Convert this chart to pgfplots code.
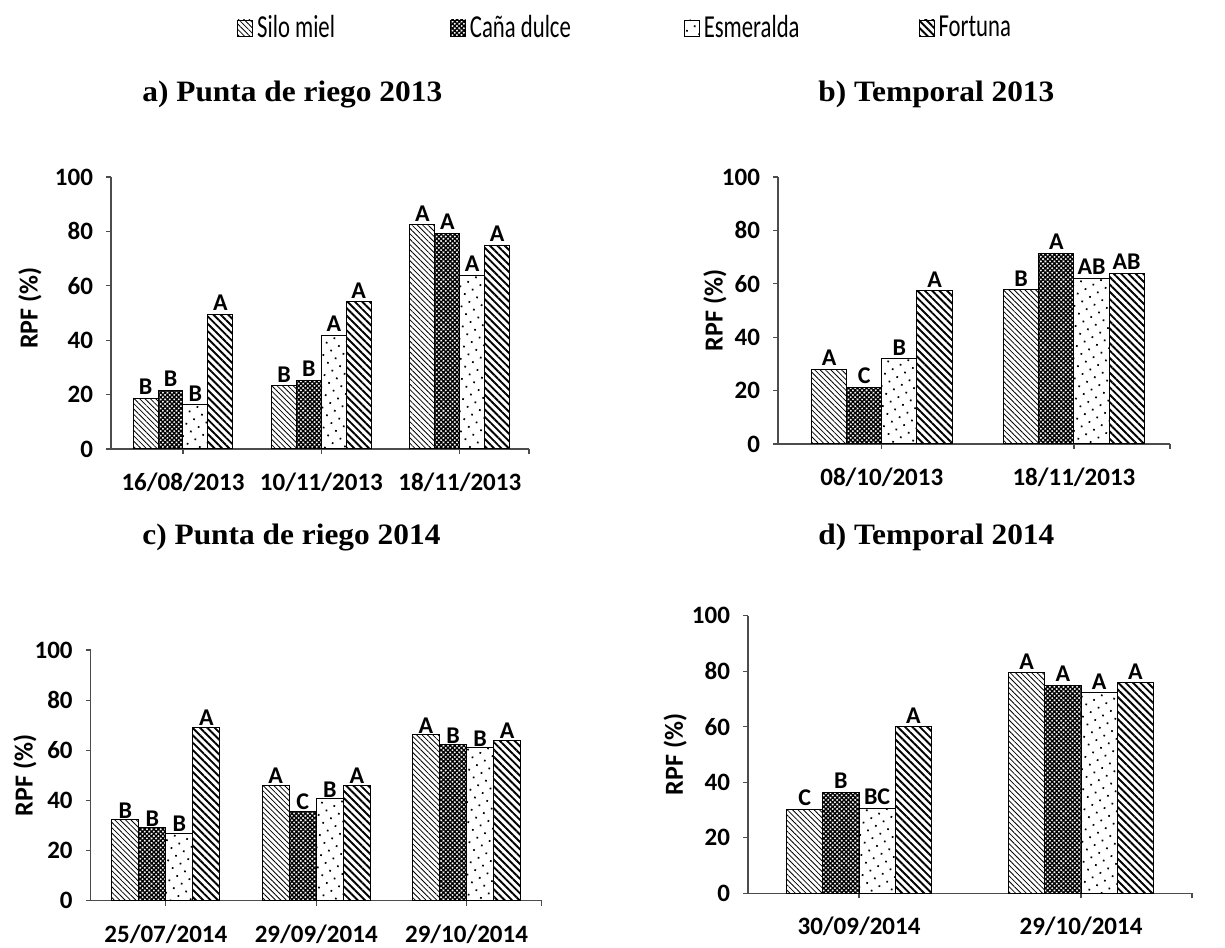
\documentclass[border=0pt]{standalone}
\usepackage{fontspec}
\setmainfont{Liberation Serif}
\setsansfont{Carlito}
\newfontfamily\legfont[FakeStretch=0.71]{Carlito}
\newfontfamily\titlefont[FakeStretch=1.06]{Liberation Serif}
\usepackage{pgfplots}
\pgfplotsset{compat=1.18}
\usetikzlibrary{patterns.meta}

\pgfplotsset{
  silo/.style={draw=black, line width=0.5pt, pattern={Lines[angle=-45,distance=1.9pt,line width=0.4pt]}},
  cana/.style={draw=black, line width=0.5pt, pattern={Hatch[angle=45,distance=1.6pt,line width=0.7pt]}},
  esme/.style={draw=black, line width=0.5pt, pattern={Dots[distance=4.5pt,radius=0.6pt,angle=30]}},
  fort/.style={draw=black, line width=0.5pt, pattern={Lines[angle=-45,distance=2.6pt,line width=0.95pt]}},
  rpf/.style={
    scale only axis,
    anchor=south west,
    ybar=0pt,
    clip=false,
    ymin=0, ymax=100,
    ytick={0,20,...,100},
    axis x line*=bottom,
    axis y line*=left,
    axis line style={black!70, line width=0.6pt},
    tick style={black!70, line width=0.6pt},
    tick align=outside,
    major tick length=2.5pt,
    /pgf/number format/assume math mode=true,
    yticklabel style={font=\sffamily\bfseries\fontsize{12.5}{14}\selectfont, xshift=-3pt},
    xticklabel style={font=\sffamily\bfseries\fontsize{12.5}{14}\selectfont, yshift=-6pt},
    ylabel={RPF (\%)},
    ylabel style={font=\sffamily\bfseries\fontsize{13}{15}\selectfont, anchor=center},
    point meta=explicit symbolic,
    nodes near coords={\pgfplotspointmeta},
    nodes near coords style={font=\sffamily\bfseries\fontsize{12}{14}\selectfont, inner sep=1.5pt},
    legend image code/.code={\draw[#1, line width=0.4pt] (0pt,-4pt) rectangle (7.5pt,4pt);},
  }
}

\begin{document}
\begin{tikzpicture}
\useasboundingbox (0,0) rectangle (612.5pt,473.5pt);

% a) Punta de riego 2013
\begin{axis}[rpf,
  at={(55.5pt,249pt)}, width=209pt, height=136pt,
  xmin=-0.52, xmax=2.5, bar width=0.18,
  xtick={0,1,2}, xticklabels={16/08/2013,10/11/2013,18/11/2013},
  extra x ticks={2.5}, extra x tick labels={},
  ylabel style={at={(axis description cs:-0.194,0.518)}},
  legend columns=4,
  legend style={at={(axis description cs:0.287,1.548)}, anchor=west, draw=none, fill=none,
    font=\legfont\fontsize{16}{18}\selectfont, nodes={inner sep=0pt},
    /tikz/every odd column/.append style={column sep=2pt}},
]
\addplot[silo] coordinates {(0,18.6)[B] (1,23.2)[B] (2,82.4)[A]};
\addplot[cana] coordinates {(0,21.6)[B] (1,25.3)[B] (2,79.4)[A]};
\addplot[esme] coordinates {(0,16.2)[B] (1,41.9)[A] (2,63.8)[A]};
\addplot[fort] coordinates {(0,49.5)[A] (1,54.2)[A] (2,74.9)[A]};
\addlegendentry{\makebox[96.5pt][l]{Silo miel}}
\addlegendentry{\makebox[107pt][l]{Caña dulce}}
\addlegendentry{\makebox[107.5pt][l]{Esmeralda}}
\addlegendentry{Fortuna}
\end{axis}

% b) Temporal 2013
\begin{axis}[rpf,
  at={(389pt,251.5pt)}, width=196pt, height=133.5pt,
  xmin=-0.54, xmax=1.5, bar width=0.183,
  xtick={0,1}, xticklabels={08/10/2013,18/11/2013},
  extra x ticks={1.5}, extra x tick labels={},
  ylabel style={at={(axis description cs:-0.161,0.5)}},
]
\addplot[silo] coordinates {(0,28.0)[A] (1,57.7)[B]};
\addplot[cana] coordinates {(0,21.2)[C] (1,71.4)[A]};
\addplot[esme] coordinates {(0,31.9)[B] (1,62.0)[AB]};
\addplot[fort] coordinates {(0,57.4)[A] (1,63.9)[AB]};
\end{axis}

% c) Punta de riego 2014
\begin{axis}[rpf,
  at={(45.35pt,23.15pt)}, width=225.5pt, height=125.35pt,
  xmin=-0.5, xmax=2.5, bar width=0.18,
  xtick={0,1,2}, xticklabels={25/07/2014,29/09/2014,29/10/2014},
  extra x ticks={2.5}, extra x tick labels={},
  ylabel style={at={(axis description cs:-0.146,0.5)}},
  nodes near coords style={inner sep=0.5pt},
]
\addplot[silo] coordinates {(0,32.2)[B] (1,46.0)[A] (2,66.1)[A]};
\addplot[cana] coordinates {(0,29.0)[B] (1,35.6)[C] (2,62.2)[B]};
\addplot[esme] coordinates {(0,26.9)[B] (1,40.7)[B] (2,61.0)[B]};
\addplot[fort] coordinates {(0,69.1)[A] (1,46.0)[A] (2,64.1)[A]};
\end{axis}

% d) Temporal 2014
\begin{axis}[rpf,
  at={(374pt,26.85pt)}, width=222pt, height=138.8pt,
  xmin=-0.5, xmax=1.5, bar width=0.163,
  xtick={0,1}, xticklabels={30/09/2014,29/10/2014},
  extra x ticks={1.5}, extra x tick labels={},
  ylabel style={at={(axis description cs:-0.164,0.5)}},
]
\addplot[silo] coordinates {(0,30.3)[C] (1,79.5)[A]};
\addplot[cana] coordinates {(0,36.4)[B] (1,75.0)[A]};
\addplot[esme] coordinates {(0,30.6)[BC] (1,72.3)[A]};
\addplot[fort] coordinates {(0,60.0)[A] (1,75.9)[A]};
\end{axis}

\begin{scope}[every node/.style={inner sep=0pt, anchor=base west, font=\titlefont\bfseries\fontsize{14.8}{16}\selectfont}]
\node at (71pt,422.5pt) {a) Punta de riego 2013};
\node at (409pt,422.5pt) {b) Temporal 2013};
\node at (71pt,201pt) {c) Punta de riego 2014};
\node at (409pt,201pt) {d) Temporal 2014};
\end{scope}
\end{tikzpicture}
\end{document}
